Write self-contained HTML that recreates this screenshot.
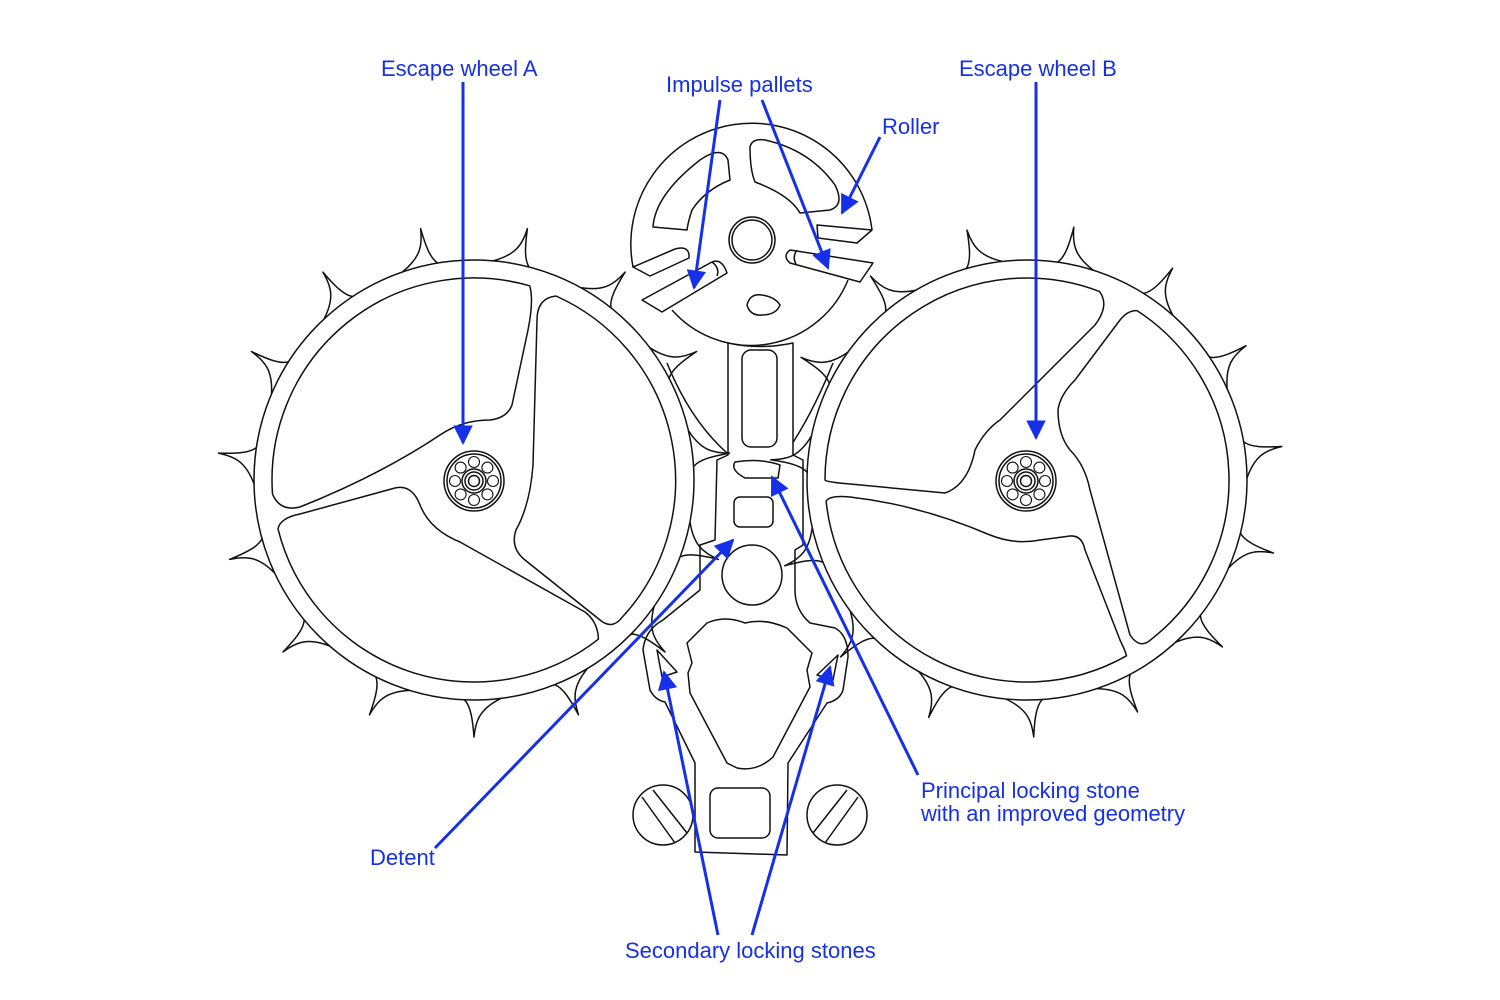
<!DOCTYPE html>
<html><head><meta charset="utf-8"><style>
html,body{margin:0;padding:0;background:#fff}
svg{display:block}
.t{font-family:"Liberation Sans",Arial,sans-serif;font-size:22px;fill:#1530e8}
</style></head><body>
<svg id="s" width="1500" height="1000" viewBox="0 0 1500 1000" xmlns="http://www.w3.org/2000/svg">
<defs><marker id="ah" viewBox="0 0 10 10" refX="9" refY="5" markerWidth="7" markerHeight="6.5" orient="auto"><path d="M0,0 L10,5 L0,10 z" fill="#1530e8"/></marker></defs>
<g fill="none" stroke="#111" stroke-width="1.5" stroke-linejoin="round" id="draw">
<circle cx="474" cy="480" r="220"/>
<path d="M272.5,494.1 A202,202 0 0 1 529.7,285.8 Q534,300 528,330 L512,405 Q507,418 490,420 Q462,420 440,435 Q380,475 300,507 Q280,512 272.5,494.1 Z"/>
<path d="M537,320 Q537,298 556,296 A202,202 0 0 1 621.7,617.8 Q612,630 600,620 L525,560 Q510,548 516,530 Q530,505 533,465 Z"/>
<path d="M598.4,639.2 A202,202 0 0 1 278,528.9 Q280,518 300,514 L395,488 Q412,484 420,505 Q430,530 460,542 L585,612 Q598,622 598.4,639.2 Z"/>
<circle cx="1027" cy="480" r="220"/>
<path d="M825,480 A202,202 0 0 1 1099.4,291.4 Q1110,305 1095,325 L1000,420 Q985,430 975,450 Q968,485 945,493 L850,484 Q826,482 825,480 Z"/>
<path d="M1058,410 Q1060,395 1075,380 L1120,320 Q1128,310 1137,310.6 A202,202 0 0 1 1151.4,639.2 Q1140,650 1130,635 L1090,490 Q1085,465 1070,450 Q1058,435 1058,410 Z"/>
<path d="M1126.5,655.8 A202,202 0 0 1 826.1,501.1 Q830,495 850,497 Q920,505 990,535 Q1015,545 1040,540 L1070,536 Q1082,535 1085,550 L1120,640 Q1125,650 1126.5,655.8 Z"/>
<path d="M633,267 A121,121 0 1 1 872,230"/>
<path d="M672,310 A105,105 0 0 0 848,280"/>
<circle cx="752" cy="240" r="23"/><circle cx="752" cy="240" r="20"/>
<path d="M653,227 Q655,195 700,160 Q722,145 728,160 L730,180 Q705,190 692,210 Q688,222 687,230 Z"/>
<path d="M750,147 Q752,138 765,140 Q810,150 835,185 Q845,205 830,210 L800,213 Q790,195 755,182 Q750,170 750,147 Z"/>
<path d="M747,305 Q750,293 762,295 Q775,297 780,305 Q776,315 762,315 Q750,316 747,305 Z"/>
<path d="M633,267 L675,249 Q690,245 689,258 L650,276 Z"/>
<path d="M642,300 L712,262 Q722,258 727,273 L662,312 Z"/><path d="M712,262 Q720,268 717,276"/>
<path d="M817,225 L872,230 L857,243 L818,238 Z"/>
<path d="M790,250 L873,263 L860,282 L790,263 Q782,256 790,250 Z"/><path d="M797,250 Q792,257 796,264"/>
<path d="M667,363 Q690,420 727,453"/><path d="M833,363 Q810,420 783,457"/>
<circle cx="663" cy="815" r="30"/><path d="M642,797 L675,843 M653,790 L687,833"/>
<circle cx="837" cy="815" r="30"/><path d="M858,797 L825,843 M847,790 L813,833"/>
<path fill="#fff" d="M728,343 L728,455 L717,460 L715,540 L700,545 L700,590 L663,620 Q645,630 643,650 L650,690 Q655,700 665,702 L695,763 L695,852 L787,855 L788,763 L827,703 Q840,700 843,690 L848,657 Q848,635 835,628 L810,623 Q795,610 795,590 L795,550 L803,545 L803,460 L793,455 L793,343 Q760,350 728,343 Z"/>
<rect x="742" y="350" width="35" height="97" rx="9"/>
<path d="M735,462 Q760,458 780,465 L778,478 L745,478 Q730,470 735,462 Z"/>
<rect x="734" y="497" width="39" height="30" rx="6"/>
<circle cx="752" cy="575" r="30"/>
<path d="M692,663 L687,643 L707,623 Q725,615 745,623 Q765,618 787,628 L812,653 L807,670 L810,687 L773,757 Q757,772 737,768 L727,763 L690,693 L688,673 Z"/>
<rect x="710" y="788" width="60" height="50" rx="8"/>
<path d="M657,650 L677,672 L662,677 Z"/>
<path d="M838,655 L817,675 L833,680 Z"/>
</g>
<text class="t" x="381" y="76">Escape wheel A</text>
<text class="t" x="666" y="92">Impulse pallets</text>
<text class="t" x="882" y="134">Roller</text>
<text class="t" x="959" y="76">Escape wheel B</text>
<text class="t" x="370" y="865">Detent</text>
<text class="t" x="921" y="798">Principal locking stone</text>
<text class="t" x="921" y="821">with an improved geometry</text>
<text class="t" x="625" y="958">Secondary locking stones</text>
<g stroke="#1530e8" stroke-width="3" fill="none" marker-end="url(#ah)">
<line x1="463" y1="82" x2="463" y2="443"/>
<line x1="720" y1="100" x2="694" y2="288"/>
<line x1="762" y1="100" x2="828" y2="268"/>
<line x1="880" y1="137" x2="842" y2="213"/>
<line x1="1036" y1="82" x2="1036" y2="438"/>
<line x1="435" y1="848" x2="733" y2="540"/>
<line x1="918" y1="775" x2="772" y2="477"/>
<line x1="718" y1="935" x2="664" y2="672"/>
<line x1="752" y1="935" x2="830" y2="667"/>
</g>
</svg>
<script>
(function(){
var g=document.getElementById('draw'),NS='http://www.w3.org/2000/svg';
function el(t,a){var e=document.createElementNS(NS,t);for(var k in a)e.setAttribute(k,a[k]);g.appendChild(e);return e;}
function hub(cx,cy){
 el('circle',{cx:cx,cy:cy,r:30});el('circle',{cx:cx,cy:cy,r:27});
 el('circle',{cx:cx,cy:cy,r:12});el('circle',{cx:cx,cy:cy,r:9});el('circle',{cx:cx,cy:cy,r:5.5});
 for(var i=0;i<8;i++){var a=i*Math.PI/4;
  el('circle',{cx:(cx+19*Math.cos(a)).toFixed(1),cy:(cy+19*Math.sin(a)).toFixed(1),r:5.5,'stroke-width':1.1});}
}
function teeth(cx,cy,start,dir){
 var D=Math.PI/180;
 function p(r,t){return (cx+r*Math.cos(t*D)).toFixed(1)+','+(cy+r*Math.sin(t*D)).toFixed(1);}
 for(var i=0;i<15;i++){
  var t=start+24*i;
  el('path',{d:'M'+p(220,t-7*dir)+' C'+p(229,t-1.5*dir)+' '+p(240,t-0.4*dir)+' '+p(257,t)+' C'+p(240,t+0.3*dir)+' '+p(226,t+0.8*dir)+' '+p(220,t+2.5*dir)});
 }
}
teeth(474,480,-102,1);
teeth(1027,480,-79.5,-1);
hub(474,481);hub(1026,481);
})();
</script>
</body></html>
